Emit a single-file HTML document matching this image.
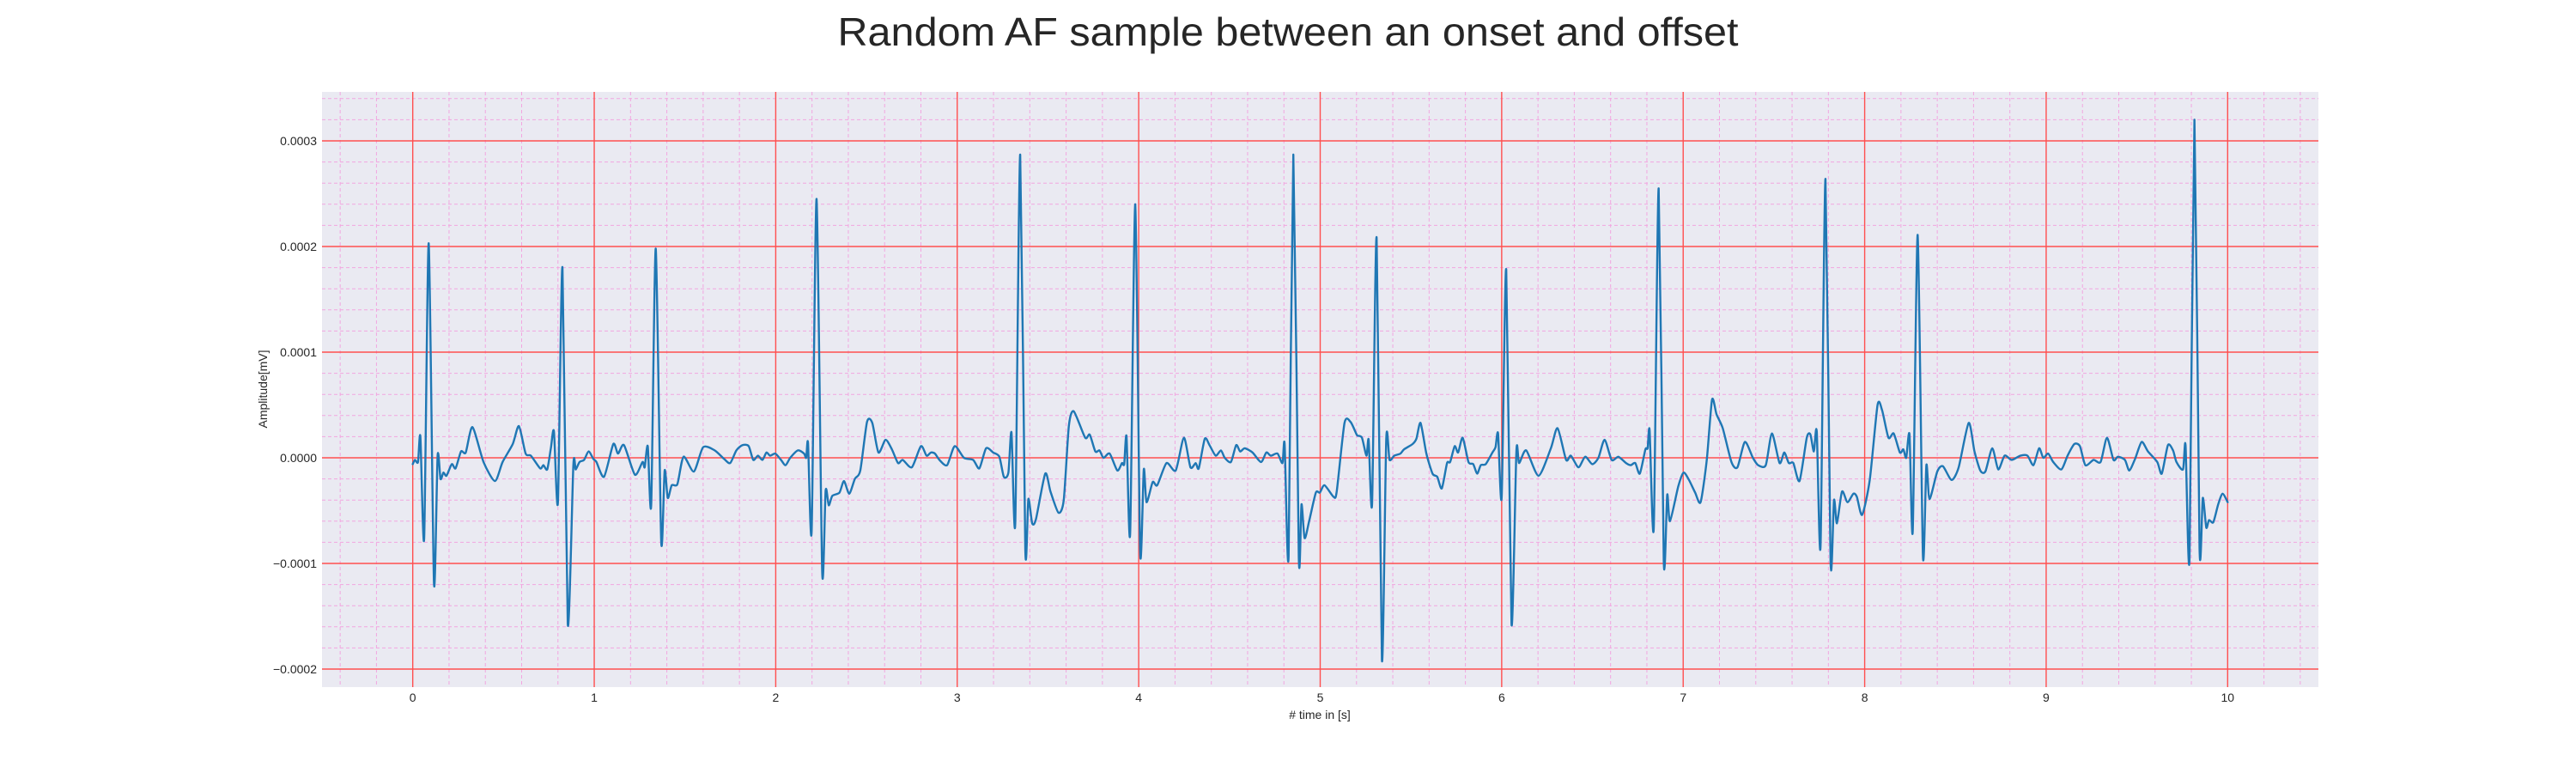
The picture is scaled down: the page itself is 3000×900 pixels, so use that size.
<!DOCTYPE html>
<html><head><meta charset="utf-8"><title>Random AF sample</title>
<style>html,body{margin:0;padding:0;background:#fff;}svg{display:block;font-family:"Liberation Sans",sans-serif;}</style>
</head><body>
<svg id="chart" width="3000" height="900" viewBox="0 0 3000 900" xmlns="http://www.w3.org/2000/svg">
<rect x="0" y="0" width="3000" height="900" fill="#ffffff"/>
<text x="1500" y="53" text-anchor="middle" font-size="46" fill="#262626" textLength="1049" lengthAdjust="spacingAndGlyphs">Random AF sample between an onset and offset</text>
<rect x="375" y="107" width="2325" height="693" fill="#eaeaf2"/>
<g id="minor-grid"></g>
<g id="major-grid"></g>
<g id="series"></g>
<g id="ticks"></g>
<text x="1537" y="837" text-anchor="middle" font-size="14" fill="#262626"># time in [s]</text>
<text x="0" y="0" transform="translate(311,453) rotate(-90)" text-anchor="middle" font-size="14" fill="#262626">Amplitude[mV]</text>
</svg>
<script>
const xTicks = [0,1,2,3,4,5,6,7,8,9,10];
const yTicks = [0.0003,0.0002,0.0001,0,-0.0001,-0.0002];
const yTickLabels = ["0.0003","0.0002","0.0001","0.0000","\u22120.0001","\u22120.0002"];
const times = [0,0.012,0.029,0.042,0.063,0.088,0.117,0.137,0.153,0.169,0.186,0.215,0.236,0.266,0.292,0.329,0.39,0.453,0.495,0.551,0.585,0.622,0.651,0.702,0.72,0.741,0.761,0.778,0.8,0.825,0.854,0.885,0.898,0.919,0.944,0.969,0.995,1.012,1.054,1.105,1.131,1.164,1.224,1.266,1.278,1.295,1.314,1.339,1.369,1.388,1.405,1.427,1.458,1.492,1.549,1.6,1.664,1.715,1.749,1.783,1.817,1.851,1.876,1.902,1.927,1.949,1.969,1.998,2.029,2.054,2.08,2.122,2.156,2.168,2.178,2.198,2.225,2.256,2.275,2.292,2.312,2.351,2.376,2.405,2.436,2.466,2.503,2.532,2.566,2.605,
2.64,2.674,2.7,2.75,2.8,2.831,2.855,2.877,2.902,2.944,2.986,3.037,3.088,3.122,3.159,3.198,3.232,3.257,3.282,3.299,3.32,3.347,3.375,3.392,3.413,3.434,3.485,3.514,3.558,3.587,3.615,3.642,3.705,3.73,3.761,3.784,3.806,3.84,3.882,3.908,3.92,3.933,3.953,3.981,4.008,4.028,4.043,4.077,4.102,4.153,4.204,4.249,4.285,4.314,4.331,4.364,4.39,4.424,4.453,4.474,4.508,4.537,4.559,4.584,4.627,4.674,4.703,4.728,4.765,4.792,4.804,4.826,4.852,4.882,4.897,4.914,4.939,4.976,4.998,5.024,5.074,5.091,5.134,5.167,5.198,
5.205,5.23,5.255,5.267,5.286,5.311,5.34,5.364,5.382,5.408,5.442,5.462,5.509,5.53,5.553,5.585,5.619,5.645,5.67,5.699,5.716,5.741,5.76,5.785,5.817,5.843,5.865,5.885,5.912,5.949,5.966,5.98,6.0,6.025,6.054,6.081,6.096,6.135,6.203,6.271,6.308,6.355,6.381,6.423,6.46,6.499,6.533,6.567,6.606,6.643,6.685,6.711,6.736,6.761,6.792,6.804,6.815,6.838,6.865,6.893,6.912,6.927,6.973,7.002,7.032,7.066,7.096,7.13,7.159,7.184,7.218,7.266,7.299,7.34,7.384,7.413,7.455,7.489,7.531,7.557,7.582,7.607,7.641,
7.681,7.701,7.72,7.736,7.757,7.784,7.812,7.831,7.847,7.875,7.905,7.938,7.957,7.986,8.028,8.071,8.096,8.131,8.16,8.194,8.213,8.229,8.247,8.265,8.292,8.321,8.34,8.357,8.4,8.431,8.479,8.518,8.573,8.605,8.637,8.665,8.703,8.736,8.771,8.81,8.858,8.897,8.93,8.961,8.984,9.011,9.039,9.084,9.118,9.155,9.186,9.216,9.261,9.3,9.335,9.371,9.395,9.434,9.458,9.49,9.526,9.561,9.612,9.637,9.671,9.699,9.718,9.754,9.768,9.79,9.817,9.845,9.863,9.882,9.897,9.921,9.948,9.972,10.0];
const amplitudes = [-0.06e-4,-0.02e-4,-0.04e-4,0.20e-4,-0.76e-4,2.03e-4,-1.19e-4,0.02e-4,-0.20e-4,-0.14e-4,-0.17e-4,-0.06e-4,-0.10e-4,0.06e-4,0.05e-4,0.29e-4,-0.04e-4,-0.22e-4,-0.04e-4,0.13e-4,0.30e-4,0.04e-4,0.02e-4,-0.10e-4,-0.07e-4,-0.11e-4,0.09e-4,0.25e-4,-0.42e-4,1.80e-4,-1.57e-4,-0.07e-4,-0.11e-4,-0.04e-4,-0.02e-4,0.06e-4,-0.01e-4,-0.04e-4,-0.18e-4,0.13e-4,0.04e-4,0.12e-4,-0.16e-4,-0.04e-4,-0.09e-4,0.11e-4,-0.44e-4,1.98e-4,-0.79e-4,-0.12e-4,-0.38e-4,-0.26e-4,-0.25e-4,0.01e-4,-0.13e-4,0.10e-4,0.07e-4,-0.01e-4,-0.05e-4,0.07e-4,0.12e-4,0.11e-4,-0.02e-4,0.02e-4,-0.02e-4,0.05e-4,0.02e-4,0.04e-4,-0.02e-4,-0.07e-4,0,0.07e-4,0.04e-4,0,0.14e-4,-0.69e-4,2.45e-4,-1.08e-4,-0.31e-4,-0.45e-4,-0.36e-4,-0.33e-4,-0.22e-4,-0.34e-4,-0.20e-4,-0.12e-4,0.34e-4,0.33e-4,0.05e-4,0.17e-4,
0.08e-4,-0.05e-4,-0.02e-4,-0.09e-4,0.11e-4,0.02e-4,0.05e-4,0.04e-4,-0.02e-4,-0.07e-4,0.11e-4,0,-0.02e-4,-0.10e-4,0.09e-4,0.05e-4,0.01e-4,-0.18e-4,-0.14e-4,0.24e-4,-0.61e-4,2.87e-4,-0.86e-4,-0.39e-4,-0.62e-4,-0.58e-4,-0.15e-4,-0.32e-4,-0.52e-4,-0.40e-4,0.30e-4,0.44e-4,0.19e-4,0.22e-4,0.06e-4,0.07e-4,0,0.04e-4,-0.12e-4,-0.05e-4,-0.06e-4,0.20e-4,-0.71e-4,2.40e-4,-0.90e-4,-0.11e-4,-0.42e-4,-0.23e-4,-0.26e-4,-0.05e-4,-0.12e-4,0.19e-4,-0.09e-4,-0.05e-4,-0.10e-4,0.18e-4,0.12e-4,0.02e-4,0.07e-4,0,-0.04e-4,0.12e-4,0.06e-4,0.09e-4,0.05e-4,-0.04e-4,0.05e-4,0.02e-4,0.04e-4,-0.05e-4,0.13e-4,-0.93e-4,2.87e-4,-0.94e-4,-0.44e-4,-0.76e-4,-0.60e-4,-0.33e-4,-0.33e-4,-0.26e-4,-0.37e-4,-0.32e-4,0.33e-4,0.34e-4,0.23e-4,
0.21e-4,0.19e-4,0.02e-4,0.17e-4,-0.43e-4,2.08e-4,-1.91e-4,0.18e-4,-0.02e-4,0.02e-4,0.04e-4,0.08e-4,0.13e-4,0.18e-4,0.33e-4,0.04e-4,-0.15e-4,-0.18e-4,-0.29e-4,-0.05e-4,-0.04e-4,0.11e-4,0.05e-4,0.19e-4,-0.04e-4,-0.06e-4,-0.15e-4,-0.07e-4,-0.06e-4,0.05e-4,0.10e-4,0.23e-4,-0.37e-4,1.78e-4,-1.57e-4,0.06e-4,-0.05e-4,0.07e-4,-0.17e-4,0.09e-4,0.28e-4,-0.02e-4,0.02e-4,-0.09e-4,0.01e-4,-0.06e-4,0,0.17e-4,-0.02e-4,0.01e-4,-0.05e-4,-0.07e-4,-0.05e-4,-0.15e-4,0.08e-4,0.09e-4,0.26e-4,-0.66e-4,2.55e-4,-0.98e-4,-0.35e-4,-0.60e-4,-0.27e-4,-0.14e-4,-0.21e-4,-0.33e-4,-0.42e-4,-0.02e-4,0.55e-4,0.41e-4,0.28e-4,-0.04e-4,-0.09e-4,0.15e-4,0,-0.07e-4,-0.07e-4,0.23e-4,-0.05e-4,0.05e-4,-0.05e-4,-0.05e-4,-0.22e-4,
0.19e-4,0.22e-4,0.06e-4,0.25e-4,-0.83e-4,2.64e-4,-0.98e-4,-0.40e-4,-0.62e-4,-0.32e-4,-0.42e-4,-0.34e-4,-0.37e-4,-0.54e-4,-0.21e-4,0.50e-4,0.45e-4,0.19e-4,0.23e-4,0.05e-4,0.08e-4,0,0.22e-4,-0.69e-4,2.11e-4,-0.93e-4,-0.07e-4,-0.39e-4,-0.13e-4,-0.08e-4,-0.21e-4,-0.09e-4,0.33e-4,0.06e-4,-0.12e-4,-0.13e-4,0.09e-4,-0.11e-4,0.02e-4,-0.02e-4,0.02e-4,0.02e-4,-0.07e-4,0.09e-4,0,0.04e-4,-0.04e-4,-0.11e-4,0.02e-4,0.13e-4,0.11e-4,-0.07e-4,-0.02e-4,-0.04e-4,0.19e-4,-0.02e-4,0.01e-4,-0.02e-4,-0.12e-4,-0.01e-4,0.15e-4,0.06e-4,-0.04e-4,-0.15e-4,0.12e-4,0.07e-4,-0.04e-4,-0.11e-4,0.12e-4,-0.95e-4,3.20e-4,-0.85e-4,-0.38e-4,-0.66e-4,-0.59e-4,-0.61e-4,-0.44e-4,-0.34e-4,-0.42e-4];

const NS = "http://www.w3.org/2000/svg";
const X0 = 375, X1 = 2700, Y0 = 107, Y1 = 800;
const xMin = -0.5, xMax = 10.5;
const yMin = -0.00021707, yMax = 0.00034634;
function xs(t){ return X0 + (t - xMin) / (xMax - xMin) * (X1 - X0); }
function ys(v){ return Y1 - (v - yMin) / (yMax - yMin) * (Y1 - Y0); }
function mk(tag, attrs, parent){
  const el = document.createElementNS(NS, tag);
  for (const k in attrs) el.setAttribute(k, attrs[k]);
  parent.appendChild(el);
  return el;
}
const minorG = document.getElementById('minor-grid');
const majorG = document.getElementById('major-grid');
const seriesG = document.getElementById('series');
const ticksG = document.getElementById('ticks');

for (let i = -2; i <= 52; i++) {
  const t = i * 0.2;
  if (i % 5 === 0) continue;
  const x = xs(t);
  if (x < X0 || x > X1) continue;
  const l = mk('line', {x1:x, x2:x, y1:Y0, y2:Y1, stroke:'#f2a6e0', 'stroke-width':1, 'stroke-dasharray':'4,3'}, minorG);
  
  
}
for (let i = -11; i <= 17; i++) {
  if (i % 5 === 0) continue;
  const y = ys(i * 0.00002);
  if (y < Y0 || y > Y1) continue;
  const l = mk('line', {x1:X0, x2:X1, y1:y, y2:y, stroke:'#f2a6e0', 'stroke-width':1, 'stroke-dasharray':'4,3'}, minorG);
  
  
}
xTicks.forEach(function(t){
  const x = xs(t);
  const l = mk('line', {x1:x, x2:x, y1:Y0, y2:Y1, stroke:'#ff4f4f', 'stroke-width':1.4}, majorG);
  
  
  const tx = mk('text', {x:x, y:817, 'text-anchor':'middle', 'font-size':14, fill:'#262626'}, ticksG);
  tx.textContent = String(t);
  
  
});
yTicks.forEach(function(v, i){
  const y = ys(v);
  const l = mk('line', {x1:X0, x2:X1, y1:y, y2:y, stroke:'#ff4f4f', 'stroke-width':1.4}, majorG);
  
  
  const tx = mk('text', {x:369, y:y + 5, 'text-anchor':'end', 'font-size':14, fill:'#262626'}, ticksG);
  tx.textContent = yTickLabels[i];
  
  
});
// smoothed series (Catmull-Rom, low tension)
const px = times.map(xs), py = amplitudes.map(ys);
const k = 0.12;
let d = 'M' + px[0].toFixed(2) + ',' + py[0].toFixed(2);
for (let i = 0; i < px.length - 1; i++) {
  const i0 = Math.max(0, i - 1), i3 = Math.min(px.length - 1, i + 2);
  const c1x = px[i] + (px[i+1] - px[i0]) * k, c1y = py[i] + (py[i+1] - py[i0]) * k;
  const c2x = px[i+1] - (px[i3] - px[i]) * k, c2y = py[i+1] - (py[i3] - py[i]) * k;
  d += 'C' + c1x.toFixed(2) + ',' + c1y.toFixed(2) + ' ' + c2x.toFixed(2) + ',' + c2y.toFixed(2) + ' ' + px[i+1].toFixed(2) + ',' + py[i+1].toFixed(2);
}
const path = mk('path', {d:d, fill:'none', stroke:'#1f77b4', 'stroke-width':2.4, 'stroke-linejoin':'round', 'stroke-linecap':'round'}, seriesG);


</script>
</body></html>
